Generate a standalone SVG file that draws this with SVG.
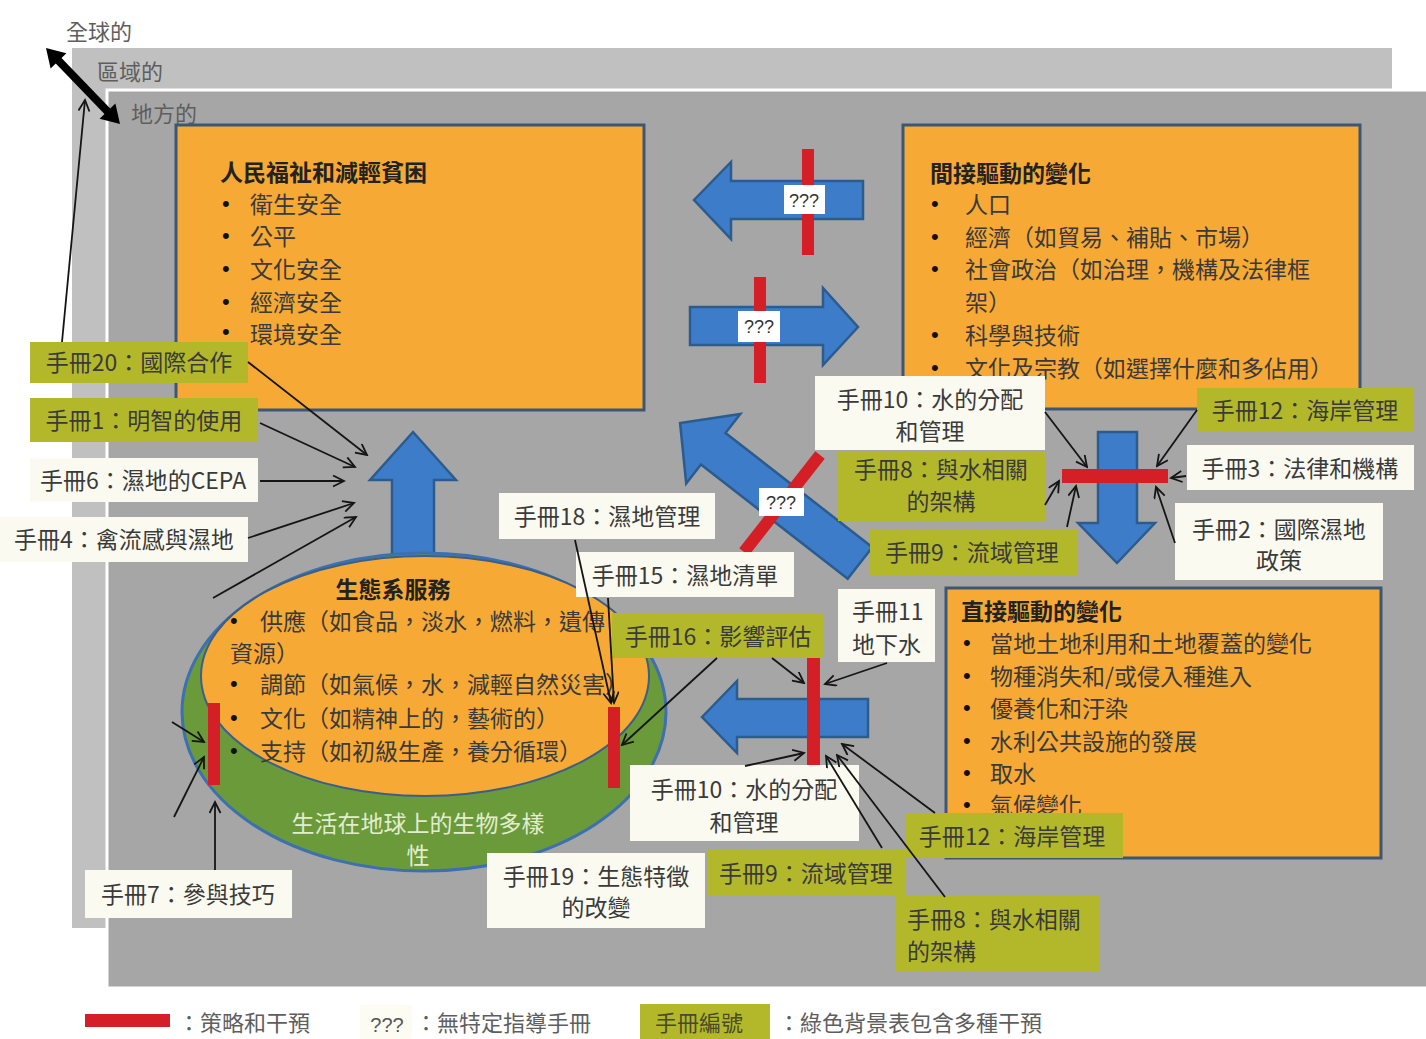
<svg xmlns="http://www.w3.org/2000/svg" width="1426" height="1039" viewBox="0 0 1426 1039">
<defs>
<style>
.t{font-family:"Noto Sans CJK TC","Noto Sans CJK SC",sans-serif;font-size:23px;fill:#3a3a3a}
.c{text-anchor:middle}
.b{font-weight:bold;fill:#222}
.g{fill:#5e5e5e;font-size:22px}
.bu{font-family:"Liberation Sans",sans-serif;font-size:22px;fill:#111}
.q{font-family:"Liberation Sans",sans-serif;font-size:18px;fill:#333;text-anchor:middle}
.box{fill:#f6a935;stroke:#3c5675;stroke-width:3}
.arr{fill:#3c7cc8;stroke:#2c5b8e;stroke-width:2.5}
.red{fill:#d41f26}
.ol{fill:#b3b82b}
.wh{fill:#fbfaf0}
.qb{fill:#ffffff}
#connectors line{stroke:#151515;stroke-width:1.8;marker-end:url(#ah)}
</style>
<marker id="ah" markerUnits="userSpaceOnUse" markerWidth="14" markerHeight="14" refX="12" refY="6" orient="auto">
<path d="M1,0.5 L12,6 L1,11.5" fill="none" stroke="#151515" stroke-width="1.8"/>
</marker>
</defs>
<rect width="1426" height="1039" fill="#ffffff"/>

<g id="scales">
<rect x="72" y="48" width="1320" height="880" fill="#c0c0c0"/>
<rect x="107" y="90" width="1330" height="898" fill="#a6a6a6" stroke="#ffffff" stroke-width="3"/>
<text class="t g" x="66" y="40">全球的</text>
<text class="t g" x="97" y="80">區域的</text>
<text class="t g" x="131" y="122">地方的</text>
<line x1="56" y1="58" x2="110" y2="114" stroke="#000" stroke-width="8"/>
<polygon points="46,48 50.6,68.6 66.4,53.2" fill="#000"/>
<polygon points="120,124 99.6,118.8 115.4,103.4" fill="#000"/>
</g>

<g id="node-wellbeing">
<rect class="box" x="176" y="125" width="468" height="285"/>
<text class="t b" x="220" y="181">人民福祉和減輕貧困</text>
<g>
<text class="bu" x="222" y="211">•</text><text class="t" x="250" y="213">衛生安全</text>
<text class="bu" x="222" y="243">•</text><text class="t" x="250" y="245">公平</text>
<text class="bu" x="222" y="276">•</text><text class="t" x="250" y="278">文化安全</text>
<text class="bu" x="222" y="309">•</text><text class="t" x="250" y="311">經濟安全</text>
<text class="bu" x="222" y="339">•</text><text class="t" x="250" y="343">環境安全</text>
</g>
</g>

<g id="node-indirect">
<rect class="box" x="903" y="125" width="457" height="284"/>
<text class="t b" x="930" y="182">間接驅動的變化</text>
<text class="bu" x="931" y="211">•</text><text class="t" x="965" y="213">人口</text>
<text class="bu" x="931" y="244">•</text><text class="t" x="965" y="246">經濟（如貿易、補貼、市場）</text>
<text class="bu" x="931" y="276">•</text><text class="t" x="965" y="278">社會政治（如治理，機構及法律框</text>
<text class="t" x="965" y="311">架）</text>
<text class="bu" x="931" y="342">•</text><text class="t" x="965" y="344">科學與技術</text>
<text class="bu" x="931" y="375">•</text><text class="t" x="965" y="377">文化及宗教（如選擇什麼和多佔用）</text>
</g>

<g id="node-direct">
<rect class="box" x="946" y="588" width="435" height="270"/>
<text class="t b" x="961" y="620">直接驅動的變化</text>
<text class="bu" x="963" y="650">•</text><text class="t" x="990" y="652">當地土地利用和土地覆蓋的變化</text>
<text class="bu" x="963" y="683">•</text><text class="t" x="990" y="685">物種消失和/或侵入種進入</text>
<text class="bu" x="963" y="715">•</text><text class="t" x="990" y="717">優養化和汙染</text>
<text class="bu" x="963" y="748">•</text><text class="t" x="990" y="750">水利公共設施的發展</text>
<text class="bu" x="963" y="780">•</text><text class="t" x="990" y="782">取水</text>
<text class="bu" x="963" y="812">•</text><text class="t" x="990" y="814">氣候變化</text>
</g>

<g id="flow-arrows">
<polygon class="arr" points="694,200 731,162 731,181 863,181 863,219 731,219 731,239"/>
<rect class="red" x="802" y="149" width="12" height="106"/>
<rect class="qb" x="784" y="185" width="41" height="29"/>
<text class="q" x="804" y="207">???</text>

<polygon class="arr" points="690,307 823,307 823,288 858,327 823,365 823,345 690,345"/>
<rect class="red" x="754" y="277" width="12" height="106"/>
<rect class="qb" x="738" y="311" width="42" height="31"/>
<text class="q" x="759" y="333">???</text>

<polygon class="arr" points="413,432 456,480 434,480 434,565 392,565 392,480 370,480"/>

<polygon class="arr" transform="translate(860,563) rotate(-142.1)" points="0,-20 186,-20 186,-44 228,0 186,44 186,20 0,20"/>
<line x1="820" y1="455" x2="744" y2="552" stroke="#d41f26" stroke-width="12"/>
<rect class="qb" x="759" y="488" width="45" height="28"/>
<text class="q" x="781" y="509">???</text>

<polygon class="arr" points="1098,432 1137,432 1137,523 1155,523 1117,563 1078,523 1098,523"/>
<rect class="red" x="1062" y="469" width="106" height="14"/>

<polygon class="arr" points="702,717 737,681 737,699 868,699 868,737 737,737 737,753"/>
<rect class="red" x="807" y="658" width="13" height="107"/>
</g>

<g id="node-ecosystem">
<ellipse cx="424" cy="712" rx="242" ry="159" fill="#6b9a3b" stroke="#3d70b0" stroke-width="3"/>
<ellipse cx="425" cy="676" rx="224" ry="120" fill="#f6a935" stroke="#3a5f8a" stroke-width="2"/>
<text class="t b" x="393" y="598" text-anchor="middle">生態系服務</text>
<text class="bu" x="230" y="628">•</text><text class="t" x="260" y="630">供應（如食品，淡水，燃料，遺傳</text>
<text class="t" x="230" y="662">資源）</text>
<text class="bu" x="230" y="691">•</text><text class="t" x="260" y="693">調節（如氣候，水，減輕自然災害）</text>
<text class="bu" x="230" y="725">•</text><text class="t" x="260" y="727">文化（如精神上的，藝術的）</text>
<text class="bu" x="230" y="758">•</text><text class="t" x="260" y="760">支持（如初級生產，養分循環）</text>
<text class="t c" x="418" y="832" style="fill:#e2edcf">生活在地球上的生物多樣</text>
<text class="t c" x="418" y="864" style="fill:#e2edcf">性</text>
<rect class="red" x="208" y="703" width="12" height="82"/>
<rect class="red" x="608" y="707" width="12" height="81"/>
</g>

<g id="labels">
<g id="h20"><rect class="ol" x="30" y="342" width="218" height="41"/><text class="t c" x="139" y="371">手冊20：國際合作</text></g>
<g id="h1"><rect class="ol" x="30" y="398" width="228" height="44"/><text class="t c" x="144" y="429">手冊1：明智的使用</text></g>
<g id="h6"><rect class="wh" x="30" y="458" width="228" height="44"/><text class="t c" x="143" y="489">手冊6：濕地的CEPA</text></g>
<g id="h4"><rect class="wh" x="0" y="517" width="248" height="45"/><text class="t c" x="124" y="548">手冊4：禽流感與濕地</text></g>
<g id="h18"><rect class="wh" x="499" y="493" width="216" height="46"/><text class="t c" x="607" y="525">手冊18：濕地管理</text></g>
<g id="h15"><rect class="wh" x="576" y="552" width="218" height="45"/><text class="t c" x="685" y="584">手冊15：濕地清單</text></g>
<g id="h16"><rect class="ol" x="612" y="613" width="212" height="45"/><text class="t c" x="718" y="645">手冊16：影響評估</text></g>
<g id="h11"><rect class="wh" x="838" y="589" width="97" height="73"/><text class="t" x="852" y="620">手冊11</text><text class="t" x="852" y="653">地下水</text></g>
<g id="h10-top"><rect class="wh" x="815" y="376" width="230" height="74"/><text class="t c" x="930" y="408">手冊10：水的分配</text><text class="t c" x="930" y="440">和管理</text></g>
<g id="h8-top"><rect class="ol" x="838" y="451" width="207" height="70"/><text class="t c" x="941" y="478">手冊8：與水相關</text><text class="t c" x="941" y="510">的架構</text></g>
<g id="h9-top"><rect class="ol" x="870" y="529" width="207" height="47"/><text class="t c" x="972" y="561">手冊9：流域管理</text></g>
<g id="h12-top"><rect class="ol" x="1197" y="388" width="217" height="44"/><text class="t c" x="1305" y="419">手冊12：海岸管理</text></g>
<g id="h3"><rect class="wh" x="1187" y="445" width="227" height="45"/><text class="t c" x="1300" y="477">手冊3：法律和機構</text></g>
<g id="h2"><rect class="wh" x="1175" y="503" width="208" height="77"/><text class="t c" x="1279" y="538">手冊2：國際濕地</text><text class="t c" x="1279" y="569">政策</text></g>
<g id="h10-bottom"><rect class="wh" x="630" y="765" width="229" height="76"/><text class="t c" x="744" y="798">手冊10：水的分配</text><text class="t c" x="744" y="831">和管理</text></g>
<g id="h12-bottom"><rect class="ol" x="905" y="813" width="218" height="45"/><text class="t c" x="1012" y="845">手冊12：海岸管理</text></g>
<g id="h9-bottom"><rect class="ol" x="707" y="850" width="198" height="46"/><text class="t c" x="806" y="882">手冊9：流域管理</text></g>
<g id="h8-bottom"><rect class="ol" x="896" y="896" width="204" height="76"/><text class="t" x="907" y="928">手冊8：與水相關</text><text class="t" x="907" y="960">的架構</text></g>
<g id="h19"><rect class="wh" x="487" y="853" width="218" height="75"/><text class="t c" x="596" y="885">手冊19：生態特徵</text><text class="t c" x="596" y="916">的改變</text></g>
<g id="h7"><rect class="wh" x="85" y="870" width="207" height="48"/><text class="t c" x="188" y="903">手冊7：參與技巧</text></g>
</g>

<g id="connectors">
<line x1="248" y1="362" x2="367" y2="455"/>
<line x1="260" y1="423" x2="355" y2="467"/>
<line x1="260" y1="481" x2="344" y2="481"/>
<line x1="248" y1="538" x2="354" y2="503"/>
<line x1="213" y1="598" x2="356" y2="517"/>
<line x1="62" y1="342" x2="85" y2="100"/>
<line x1="172" y1="722" x2="204" y2="742"/>
<line x1="174" y1="817" x2="204" y2="757"/>
<line x1="215" y1="870" x2="215" y2="802"/>
<line x1="575" y1="540" x2="611" y2="703"/>
<line x1="608" y1="598" x2="614" y2="703"/>
<line x1="717" y1="658" x2="622" y2="745"/>
<line x1="772" y1="658" x2="804" y2="683"/>
<line x1="887" y1="663" x2="825" y2="684"/>
<line x1="745" y1="766" x2="804" y2="753"/>
<line x1="882" y1="848" x2="826" y2="756"/>
<line x1="945" y1="897" x2="837" y2="755"/>
<line x1="935" y1="813" x2="842" y2="744"/>
<line x1="1045" y1="412" x2="1087" y2="467"/>
<line x1="1197" y1="410" x2="1157" y2="466"/>
<line x1="1186" y1="476" x2="1171" y2="478"/>
<line x1="1175" y1="543" x2="1156" y2="487"/>
<line x1="1045" y1="505" x2="1059" y2="481"/>
<line x1="1067" y1="527" x2="1076" y2="486"/>
</g>

<g id="legend">
<rect class="red" x="85" y="1014" width="85" height="13"/>
<text class="t g" x="178" y="1031">：策略和干預</text>
<rect x="360" y="1005" width="52" height="34" fill="#fdfcf2"/>
<text class="q" x="387" y="1032" style="font-size:20px;fill:#555">???</text>
<text class="t g" x="415" y="1031">：無特定指導手冊</text>
<rect class="ol" x="640" y="1004" width="130" height="35"/>
<text class="t g" x="655" y="1031" style="fill:#4a4a2a">手冊編號</text>
<text class="t g" x="778" y="1031">：綠色背景表包含多種干預</text>
</g>
</svg>
